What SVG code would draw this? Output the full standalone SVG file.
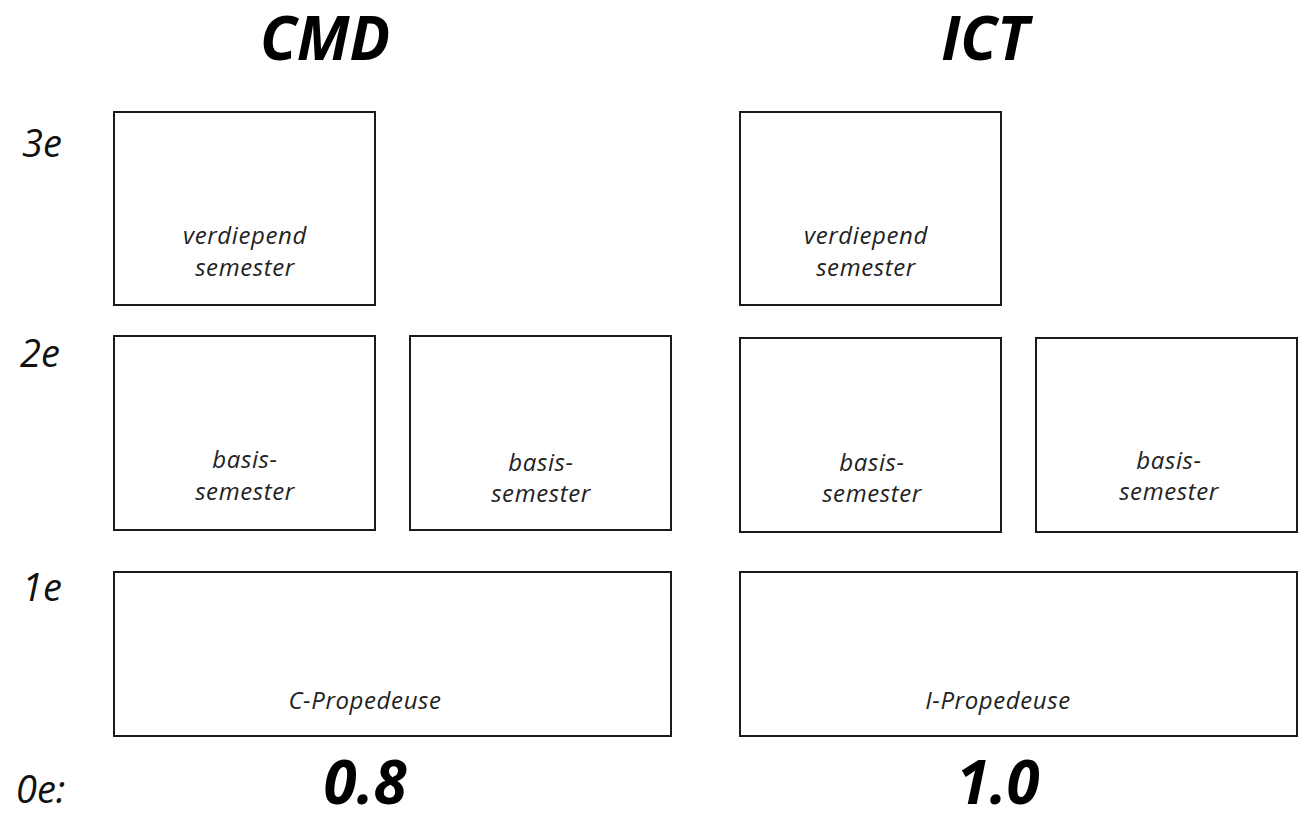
<svg xmlns="http://www.w3.org/2000/svg" width="1299" height="814" viewBox="0 0 1299 814">
<style>
.box{fill:#fff;stroke:#1a1a1a;stroke-width:2}
.lbl{font-family:"Open Sans","Noto Sans",sans-serif;font-style:italic;font-size:24px;fill:#222;text-anchor:middle;letter-spacing:0.6px}
.yr{font-family:"Open Sans","Noto Sans",sans-serif;font-style:italic;font-size:38px;fill:#111}
.big{font-family:"Open Sans","Noto Sans",sans-serif;font-style:italic;font-weight:bold;font-size:60px;fill:#000;text-anchor:middle}
</style>
<rect width="1299" height="814" fill="#fff"/>
<g id="titles">
<text class="big" x="325" y="60">CMD</text>
<text class="big" x="985" y="60">ICT</text>
</g>
<g id="years">
<text class="yr" x="22" y="157">3e</text>
<text class="yr" x="20" y="367">2e</text>
<text class="yr" x="22" y="601">1e</text>
<text class="yr" x="16" y="803">0e:</text>
</g>
<g id="cmd-verdiepend"><rect class="box" x="114" y="112" width="261" height="193"/><text class="lbl" x="245" y="244">verdiepend</text><text class="lbl" x="245" y="276">semester</text></g>
<g id="cmd-basis1"><rect class="box" x="114" y="336" width="261" height="194"/><text class="lbl" x="245" y="468">basis-</text><text class="lbl" x="245" y="500">semester</text></g>
<g id="cmd-basis2"><rect class="box" x="410" y="336" width="261" height="194"/><text class="lbl" x="541" y="471">basis-</text><text class="lbl" x="541" y="502">semester</text></g>
<g id="cmd-propedeuse"><rect class="box" x="114" y="572" width="557" height="164"/><text class="lbl" x="365" y="709">C-Propedeuse</text></g>
<g id="ict-verdiepend"><rect class="box" x="740" y="112" width="261" height="193"/><text class="lbl" x="866" y="244">verdiepend</text><text class="lbl" x="866" y="276">semester</text></g>
<g id="ict-basis1"><rect class="box" x="740" y="338" width="261" height="194"/><text class="lbl" x="872" y="471">basis-</text><text class="lbl" x="872" y="502">semester</text></g>
<g id="ict-basis2"><rect class="box" x="1036" y="338" width="261" height="194"/><text class="lbl" x="1169" y="469">basis-</text><text class="lbl" x="1169" y="500">semester</text></g>
<g id="ict-propedeuse"><rect class="box" x="740" y="572" width="557" height="164"/><text class="lbl" x="998" y="709">I-Propedeuse</text></g>
<g id="scores">
<text class="big" x="365" y="804">0.8</text>
<text class="big" x="998" y="804">1.0</text>
</g>
<g id="connectors"/>
</svg>
